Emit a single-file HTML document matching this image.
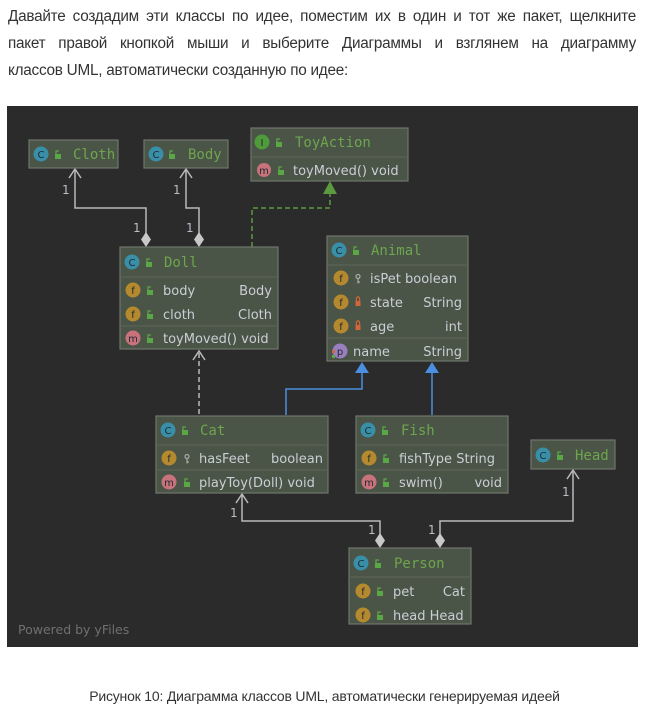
<!DOCTYPE html>
<html><head><meta charset="utf-8"><style>
html,body{margin:0;padding:0;background:#fff;width:649px;height:712px;overflow:hidden}
.p{position:absolute;left:8px;width:628px;font-family:"Liberation Sans",sans-serif;font-size:15.3px;color:#333;letter-spacing:-0.25px}
.j{text-align:justify;text-align-last:justify}
svg{position:absolute;left:0;top:0}
.h{font-family:"DejaVu Sans Mono","Liberation Mono",monospace;font-size:14px;fill:#6ea64d}
.t{font-family:"DejaVu Sans","Liberation Sans",sans-serif;font-size:13px;fill:#c9cfd6}
.b{fill:#4a5447;stroke:#6f776c;stroke-width:1.2}
.d{stroke:#5d6659;stroke-width:1}
.ic{font-family:"DejaVu Sans",sans-serif;font-size:10px;fill:#1d2a30;text-anchor:middle}
.n{font-family:"DejaVu Sans",sans-serif;font-size:12px;fill:#b8bec4}
</style></head><body>
<div class="p j" style="top:8px">Давайте создадим эти классы по идее, поместим их в один и тот же пакет, щелкните</div>
<div class="p j" style="top:35px">пакет правой кнопкой мыши и выберите Диаграммы и взглянем на диаграмму</div>
<div class="p" style="top:62px">классов UML, автоматически созданную по идее:</div>
<div class="p" style="top:688px;left:0;width:649px;text-align:center;font-size:14px;letter-spacing:-0.2px">Рисунок 10: Диаграмма классов UML, автоматически генерируемая идеей</div>
<svg width="649" height="712" xmlns="http://www.w3.org/2000/svg">
<defs>
<g id="lk"><rect x="-3" y="-1" width="6" height="5" fill="#5aa845"/><path d="M-2,-1 v-3 h3" stroke="#5aa845" fill="none" stroke-width="1.3"/></g>
<g id="rl"><rect x="-2.5" y="-1" width="5" height="5" fill="#d0663a"/><path d="M-1.6,-1 v-2.5 a1.6,1.6 0 0 1 3.2,0 v2.5" stroke="#d0663a" fill="none" stroke-width="1.2"/></g>
<g id="ky"><circle cx="0" cy="-2.5" r="2" fill="none" stroke="#aaa" stroke-width="1.2"/><path d="M0,-0.5 v5 M0,3 h2" stroke="#aaa" stroke-width="1.2"/></g>
</defs>
<rect x="7" y="106" width="631" height="541" fill="#2b2b2b"/>
<text x="18" y="634" style="font-family:'DejaVu Sans',sans-serif;font-size:12.5px;fill:#6f6f6f">Powered by yFiles</text>

<!-- connectors -->
<g fill="none" stroke="#b9b9b9" stroke-width="1.5">
<path d="M75,170 V208 H146 V234"/><path d="M69,178 L75,169 L81,178"/>
<path d="M186,170 V208 H199 V234"/><path d="M180,178 L186,169 L192,178"/>
<path d="M199,414 V352" stroke-dasharray="5,3"/><path d="M193,360 L199,351 L205,360"/>
<path d="M242,495 V521 H380 V535"/><path d="M236,503 L242,494 L248,503"/>
<path d="M573,471 V521 H440 V535"/><path d="M567,479 L573,470 L579,479"/>
</g>
<g fill="#c8c8c8">
<path d="M146,232 l5,7.5 l-5,7.5 l-5,-7.5z"/><path d="M199,232 l5,7.5 l-5,7.5 l-5,-7.5z"/>
<path d="M380,533 l5,7.5 l-5,7.5 l-5,-7.5z"/><path d="M440,533 l5,7.5 l-5,7.5 l-5,-7.5z"/>
</g>
<path d="M252,247 V208 H330 V194" fill="none" stroke="#5b9a3e" stroke-width="1.5" stroke-dasharray="5,3"/>
<path d="M330,181 l7,13 h-14z" fill="#5b9a3e"/>
<path d="M286,415 V389 H362 V372 M432,415 V372" fill="none" stroke="#4a8fe0" stroke-width="1.5"/>
<path d="M362,362 l7,11 h-14z M432,362 l7,11 h-14z" fill="#4a8fe0"/>
<g class="n"><text x="62" y="194">1</text><text x="133" y="232">1</text><text x="173" y="194">1</text><text x="186" y="232">1</text>
<text x="230" y="517">1</text><text x="368" y="534">1</text><text x="428" y="534">1</text><text x="562" y="496">1</text></g>

<!-- Cloth -->
<rect class="b" x="29" y="140" width="89" height="28"/>
<circle cx="41" cy="154" r="7.5" fill="#3a8fa8"/><text class="ic" x="41" y="158">C</text><use href="#lk" x="58" y="155"/>
<text class="h" x="73" y="159">Cloth</text>
<!-- Body -->
<rect class="b" x="144" y="140" width="84" height="28"/>
<circle cx="156" cy="154" r="7.5" fill="#3a8fa8"/><text class="ic" x="156" y="158">C</text><use href="#lk" x="172" y="155"/>
<text class="h" x="188" y="159">Body</text>
<!-- ToyAction -->
<rect class="b" x="251" y="128" width="157" height="53"/><line class="d" x1="251" y1="157" x2="408" y2="157"/>
<circle cx="262" cy="142" r="7.5" fill="#4f9a3a"/><text class="ic" x="262" y="146">I</text><use href="#lk" x="279" y="143"/>
<text class="h" x="295" y="147">ToyAction</text>
<circle cx="264" cy="170" r="7" fill="#c8727c"/><text class="ic" x="264" y="174">m</text><use href="#lk" x="281" y="171"/>
<text class="t" x="293" y="175">toyMoved() void</text>
<!-- Doll -->
<rect class="b" x="120" y="247" width="158" height="102"/><line class="d" x1="120" y1="277" x2="278" y2="277"/><line class="d" x1="120" y1="326" x2="278" y2="326"/>
<circle cx="132" cy="262" r="7.5" fill="#3a8fa8"/><text class="ic" x="132" y="266">C</text><use href="#lk" x="149" y="263"/>
<text class="h" x="164" y="267">Doll</text>
<circle cx="133" cy="290" r="7.5" fill="#b58a2f"/><text class="ic" x="133" y="294">f</text><use href="#lk" x="150" y="291"/>
<text class="t" x="163" y="295">body</text><text class="t" x="272" y="295" text-anchor="end">Body</text>
<circle cx="133" cy="314" r="7.5" fill="#b58a2f"/><text class="ic" x="133" y="318">f</text><use href="#lk" x="150" y="315"/>
<text class="t" x="163" y="319">cloth</text><text class="t" x="272" y="319" text-anchor="end">Cloth</text>
<circle cx="133" cy="338" r="7.5" fill="#c8727c"/><text class="ic" x="133" y="342">m</text><use href="#lk" x="150" y="339"/>
<text class="t" x="163" y="343">toyMoved() void</text>
<!-- Animal -->
<rect class="b" x="327" y="236" width="141" height="125"/><line class="d" x1="327" y1="265" x2="468" y2="265"/><line class="d" x1="327" y1="338" x2="468" y2="338"/>
<circle cx="339" cy="250" r="7.5" fill="#3a8fa8"/><text class="ic" x="339" y="254">C</text><use href="#lk" x="356" y="251"/>
<text class="h" x="371" y="255">Animal</text>
<circle cx="341" cy="278" r="7.5" fill="#b58a2f"/><text class="ic" x="341" y="282">f</text><use href="#ky" x="358" y="279"/>
<text class="t" x="370" y="283">isPet boolean</text>
<circle cx="341" cy="302" r="7.5" fill="#b58a2f"/><text class="ic" x="341" y="306">f</text><use href="#rl" x="358" y="302"/>
<text class="t" x="370" y="307">state</text><text class="t" x="462" y="307" text-anchor="end">String</text>
<circle cx="341" cy="326" r="7.5" fill="#b58a2f"/><text class="ic" x="341" y="330">f</text><use href="#rl" x="358" y="326"/>
<text class="t" x="370" y="331">age</text><text class="t" x="462" y="331" text-anchor="end">int</text>
<circle cx="340" cy="351" r="7.5" fill="#9a7fc0"/><text class="ic" x="340" y="355">p</text>
<rect x="332" y="350" width="3" height="3" fill="#d0663a"/><rect x="332" y="355" width="3" height="3" fill="#5aa845"/>
<text class="t" x="353" y="356">name</text><text class="t" x="462" y="356" text-anchor="end">String</text>
<!-- Cat -->
<rect class="b" x="156" y="416" width="172" height="77"/><line class="d" x1="156" y1="445" x2="328" y2="445"/><line class="d" x1="156" y1="470" x2="328" y2="470"/>
<circle cx="168" cy="430" r="7.5" fill="#3a8fa8"/><text class="ic" x="168" y="434">C</text><use href="#lk" x="185" y="431"/>
<text class="h" x="200" y="435">Cat</text>
<circle cx="169" cy="458" r="7.5" fill="#b58a2f"/><text class="ic" x="169" y="462">f</text><use href="#ky" x="187" y="459"/>
<text class="t" x="199" y="463">hasFeet</text><text class="t" x="323" y="463" text-anchor="end">boolean</text>
<circle cx="169" cy="482" r="7.5" fill="#c8727c"/><text class="ic" x="169" y="486">m</text><use href="#lk" x="187" y="483"/>
<text class="t" x="199" y="487">playToy(Doll) void</text>
<!-- Fish -->
<rect class="b" x="356" y="416" width="152" height="77"/><line class="d" x1="356" y1="445" x2="508" y2="445"/><line class="d" x1="356" y1="470" x2="508" y2="470"/>
<circle cx="368" cy="430" r="7.5" fill="#3a8fa8"/><text class="ic" x="368" y="434">C</text><use href="#lk" x="385" y="431"/>
<text class="h" x="401" y="435">Fish</text>
<circle cx="369" cy="458" r="7.5" fill="#b58a2f"/><text class="ic" x="369" y="462">f</text><use href="#lk" x="386" y="459"/>
<text class="t" x="399" y="463">fishType String</text>
<circle cx="369" cy="482" r="7.5" fill="#c8727c"/><text class="ic" x="369" y="486">m</text><use href="#lk" x="386" y="483"/>
<text class="t" x="399" y="487">swim()</text><text class="t" x="502" y="487" text-anchor="end">void</text>
<!-- Head -->
<rect class="b" x="531" y="440" width="84" height="29"/>
<circle cx="543" cy="455" r="7.5" fill="#3a8fa8"/><text class="ic" x="543" y="459">C</text><use href="#lk" x="560" y="456"/>
<text class="h" x="575" y="460">Head</text>
<!-- Person -->
<rect class="b" x="349" y="548" width="122" height="76"/><line class="d" x1="349" y1="577" x2="471" y2="577"/>
<circle cx="361" cy="563" r="7.5" fill="#3a8fa8"/><text class="ic" x="361" y="567">C</text><use href="#lk" x="378" y="564"/>
<text class="h" x="394" y="568">Person</text>
<circle cx="363" cy="591" r="7.5" fill="#b58a2f"/><text class="ic" x="363" y="595">f</text><use href="#lk" x="380" y="592"/>
<text class="t" x="393" y="596">pet</text><text class="t" x="465" y="596" text-anchor="end">Cat</text>
<circle cx="363" cy="615" r="7.5" fill="#b58a2f"/><text class="ic" x="363" y="619">f</text><use href="#lk" x="380" y="616"/>
<text class="t" x="393" y="620">head Head</text>
</svg>
</body></html>
